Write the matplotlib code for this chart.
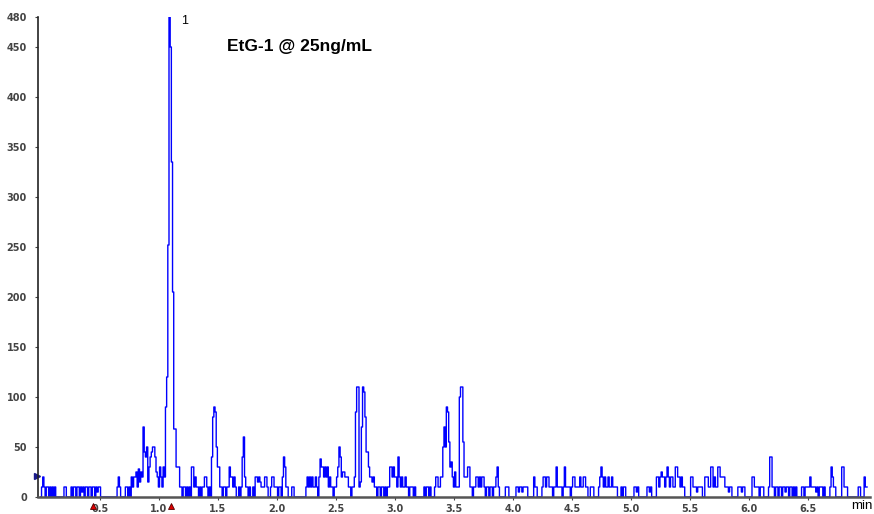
import numpy as np
import matplotlib.pyplot as plt

# retention time grid, 0.01 min per sample
time_min = np.round(np.arange(0, 701) * 0.01, 2)

# intensity, one row per 0.1 min
intensity = [
    0, 10, 20, 10, 0, 10, 10, 0, 10, 0,            # 0.0
    10, 0, 10, 0, 0, 0, 0, 0, 0, 0,                # 0.1
    10, 10, 0, 0, 0, 0, 10, 0, 10, 10,             # 0.2
    0, 10, 10, 0, 10, 5, 10, 0, 10, 10,            # 0.3
    0, 10, 10, 0, 10, 10, 0, 10, 5, 10,            # 0.4
    10, 0, 0, 0, 0, 0, 0, 0, 0, 0,                 # 0.5
    0, 0, 0, 0, 0, 10, 20, 10, 0, 0,               # 0.6
    0, 0, 10, 10, 0, 10, 0, 20, 10, 20,            # 0.7
    20, 25, 10, 28, 15, 25, 20, 70, 45, 40,        # 0.8
    50, 15, 30, 40, 45, 50, 50, 40, 25, 20,        # 0.9
    10, 30, 20, 10, 30, 20, 90, 120, 252, 480,     # 1.0
    450, 335, 205, 68, 68, 30, 30, 30, 10, 10,     # 1.1
    0, 10, 10, 0, 10, 0, 10, 0, 30, 30,            # 1.2
    10, 20, 10, 10, 0, 10, 0, 10, 10, 20,          # 1.3
    20, 10, 0, 10, 0, 40, 80, 90, 85, 50,          # 1.4
    30, 30, 10, 10, 0, 10, 10, 0, 10, 10,          # 1.5
    30, 20, 20, 10, 20, 10, 0, 0, 10, 0,           # 1.6
    10, 40, 60, 20, 10, 10, 0, 10, 0, 0,           # 1.7
    10, 0, 20, 20, 15, 20, 15, 10, 10, 10,         # 1.8
    20, 20, 10, 0, 0, 10, 20, 20, 10, 10,          # 1.9
    10, 0, 10, 10, 0, 20, 40, 30, 10, 10,          # 2.0
    0, 0, 0, 10, 10, 0, 0, 0, 0, 0,                # 2.1
    0, 0, 0, 0, 0, 10, 20, 10, 20, 10,             # 2.2
    20, 10, 10, 20, 10, 0, 20, 38, 30, 30,         # 2.3
    20, 30, 20, 30, 10, 20, 10, 10, 0, 10,         # 2.4
    10, 20, 30, 50, 40, 20, 25, 25, 20, 20,        # 2.5
    20, 10, 10, 0, 10, 10, 20, 85, 110, 110,       # 2.6
    10, 15, 70, 110, 105, 80, 45, 45, 30, 20,      # 2.7
    20, 15, 20, 10, 10, 0, 10, 10, 0, 10,          # 2.8
    10, 0, 10, 0, 10, 10, 30, 30, 20, 30,          # 2.9
    20, 20, 10, 40, 20, 10, 20, 10, 10, 20,        # 3.0
    10, 10, 0, 10, 10, 10, 0, 10, 0, 0,            # 3.1
    0, 0, 0, 0, 0, 10, 0, 10, 10, 0,               # 3.2
    10, 0, 0, 0, 10, 20, 20, 10, 10, 20,           # 3.3
    20, 50, 70, 50, 90, 85, 55, 30, 35, 20,        # 3.4
    10, 25, 10, 10, 10, 100, 110, 110, 55, 20,     # 3.5
    20, 20, 30, 30, 10, 10, 0, 10, 10, 20,         # 3.6
    20, 10, 20, 10, 20, 20, 10, 0, 10, 10,         # 3.7
    0, 10, 10, 0, 10, 10, 20, 30, 10, 0,           # 3.8
    0, 0, 0, 0, 10, 10, 10, 0, 0, 0,               # 3.9
    0, 0, 0, 10, 10, 5, 10, 10, 5, 10,             # 4.0
    10, 10, 10, 0, 0, 0, 0, 0, 20, 10,             # 4.1
    10, 0, 0, 0, 0, 10, 20, 20, 10, 20,            # 4.2
    20, 10, 10, 10, 0, 10, 10, 30, 10, 10,         # 4.3
    10, 10, 0, 10, 30, 10, 10, 10, 10, 0,          # 4.4
    10, 20, 20, 10, 10, 10, 10, 20, 10, 10,        # 4.5
    20, 20, 10, 10, 0, 0, 10, 10, 10, 0,           # 4.6
    0, 0, 0, 10, 20, 30, 20, 10, 20, 10,           # 4.7
    10, 20, 10, 10, 20, 10, 10, 10, 10, 0,         # 4.8
    0, 0, 10, 0, 10, 10, 0, 0, 0, 0,               # 4.9
    0, 0, 0, 10, 10, 5, 10, 0, 0, 0,               # 5.0
    0, 0, 0, 0, 10, 10, 5, 10, 0, 0,               # 5.1
    0, 0, 20, 20, 10, 20, 25, 20, 20, 10,          # 5.2
    20, 30, 20, 10, 20, 20, 10, 10, 30, 30,        # 5.3
    20, 20, 10, 20, 10, 10, 0, 0, 0, 0,            # 5.4
    0, 20, 20, 10, 10, 10, 5, 10, 10, 10,          # 5.5
    10, 0, 0, 20, 20, 20, 10, 10, 30, 30,          # 5.6
    10, 20, 10, 10, 30, 30, 20, 20, 20, 20,        # 5.7
    10, 10, 10, 5, 10, 10, 0, 0, 0, 0,             # 5.8
    0, 10, 10, 10, 5, 10, 10, 0, 0, 0,             # 5.9
    0, 0, 0, 20, 20, 10, 10, 10, 10, 0,            # 6.0
    10, 10, 10, 0, 0, 0, 0, 10, 40, 40,            # 6.1
    10, 10, 0, 10, 10, 0, 10, 10, 0, 10,           # 6.2
    10, 5, 10, 10, 0, 10, 10, 0, 10, 0,            # 6.3
    10, 0, 0, 0, 0, 10, 10, 0, 10, 10,             # 6.4
    10, 10, 20, 10, 10, 10, 10, 5, 10, 0,          # 6.5
    10, 10, 10, 0, 10, 0, 0, 0, 0, 10,             # 6.6
    30, 20, 10, 10, 0, 0, 0, 0, 0, 30,             # 6.7
    30, 10, 10, 10, 0, 0, 0, 0, 0, 0,              # 6.8
    0, 0, 0, 10, 10, 0, 0, 0, 20, 10,              # 6.9
    10,                                            # 7.0
]

y_ticks = [0, 50, 100, 150, 200, 250, 300, 350, 400, 450, 480]
x_ticks = [0.5, 1.0, 1.5, 2.0, 2.5, 3.0, 3.5, 4.0, 4.5, 5.0, 5.5, 6.0, 6.5]
peak_time = 1.09
peak_label = '1'
title = 'EtG-1 @ 25ng/mL'
marker_times = [0.44, 1.10]

plt.rcParams['font.family'] = ['Liberation Sans', 'DejaVu Sans']

fig = plt.figure(figsize=(8.74, 5.14), dpi=100)
ax = fig.add_axes([38 / 874, 17 / 514, 832 / 874, 480 / 514])

ax.plot(time_min, intensity, color='#0000ff', lw=1.0, drawstyle='steps-mid')

ax.set_xlim(-0.025, 7.025)
ax.set_ylim(0, 480)
ax.set_yticks(y_ticks)
ax.set_xticks(x_ticks)
ax.set_xticklabels([f'{v:.1f}' for v in x_ticks])
ax.tick_params(axis='both', labelsize=7, colors='#444444', length=2, width=0.8,
               direction='out')
ax.tick_params(axis='y', pad=6)
ax.tick_params(axis='x', pad=3)
for lbl in ax.get_xticklabels() + ax.get_yticklabels():
    lbl.set_family('DejaVu Sans')
    lbl.set_fontweight('bold')

for side in ['top', 'right']:
    ax.spines[side].set_visible(False)
ax.spines['left'].set_color('#222222')
ax.spines['left'].set_linewidth(1.2)
ax.spines['bottom'].set_color('#555555')
ax.spines['bottom'].set_linewidth(1.8)

ax.text(peak_time + 0.1, 476, peak_label, fontsize=9, ha='left', va='center')
ax.text(1.575, 450, title, fontsize=12.5, fontweight='bold', ha='left', va='center')
fig.text(0.998, 0.003, 'min', fontsize=9.5, ha='right', va='bottom')

# start marker on the y axis and red event markers under the time axis
ax.plot([-0.035], [21], marker='>', color='#1a1a8c', ms=5, clip_on=False)
ax.plot(marker_times, [-9, -9], ls='none', marker='^', color='#dd0000',
        mec='#550000', mew=0.6, ms=5, clip_on=False)

fig.savefig('out.png', dpi=100)
plt.close(fig)
